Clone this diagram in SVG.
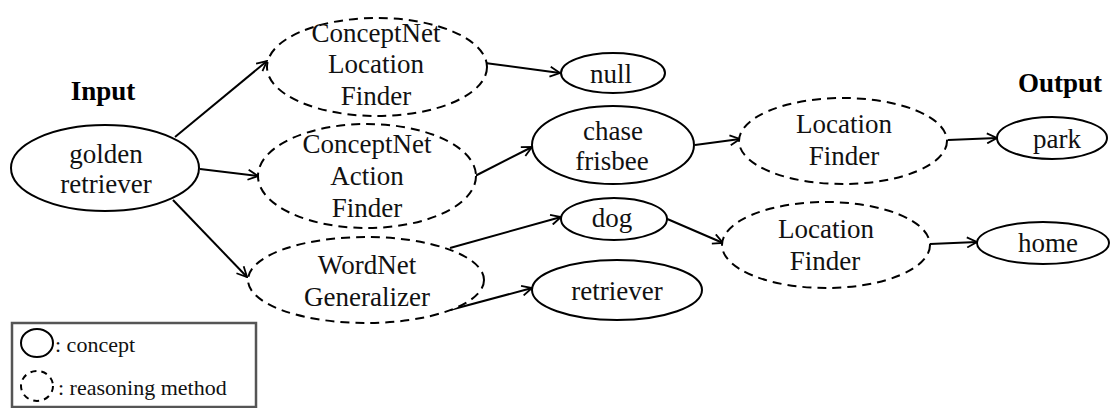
<svg xmlns="http://www.w3.org/2000/svg" width="1116" height="408" viewBox="0 0 1116 408">
<defs>
<marker id="arr" viewBox="0 0 12 12" refX="11" refY="6" markerWidth="12" markerHeight="12" markerUnits="userSpaceOnUse" orient="auto">
<path d="M1,1 L11,6 L1,11" fill="none" stroke="#000" stroke-width="1.8"/>
</marker>
<style>
.c{fill:#fff;stroke:#000;stroke-width:2}
.m{fill:#fff;stroke:#000;stroke-width:2;stroke-dasharray:9 6}
.t{font-family:"Liberation Serif","Times New Roman",serif;font-size:27px;fill:#111;text-anchor:middle}
.b{font-family:"Liberation Serif","Times New Roman",serif;font-size:27px;font-weight:bold;fill:#000;text-anchor:middle}
.l{font-family:"Liberation Serif","Times New Roman",serif;font-size:22px;fill:#111}
.e{fill:none;stroke:#000;stroke-width:2;marker-end:url(#arr)}
</style>
</defs>
<rect width="1116" height="408" fill="#fff"/>
<text class="b" x="103" y="100">Input</text>
<text class="b" x="1060" y="92">Output</text>
<g id="connectors">
<line class="e" x1="175" y1="137" x2="267" y2="61"/>
<line class="e" x1="200" y1="169" x2="258" y2="176"/>
<line class="e" x1="173" y1="200" x2="247" y2="277"/>
<line class="e" x1="485" y1="63" x2="560" y2="73"/>
<line class="e" x1="475" y1="176" x2="532" y2="147"/>
<line class="e" x1="450" y1="248" x2="561" y2="217"/>
<line class="e" x1="450" y1="310" x2="532" y2="288"/>
<line class="e" x1="695" y1="145" x2="740" y2="139"/>
<line class="e" x1="665" y1="218" x2="723" y2="243"/>
<line class="e" x1="948" y1="140" x2="997" y2="138"/>
<line class="e" x1="930" y1="244" x2="977" y2="242"/>
</g>
<g id="golden-retriever">
<ellipse class="c" cx="105" cy="168" rx="94" ry="43"/>
<text class="t" x="106" y="163">golden</text>
<text class="t" x="106" y="193">retriever</text>
</g>
<g id="cn-location-finder">
<ellipse class="m" cx="377" cy="67" rx="110" ry="49"/>
<text class="t" x="376" y="42">ConceptNet</text>
<text class="t" x="376" y="73">Location</text>
<text class="t" x="376" y="105">Finder</text>
</g>
<g id="cn-action-finder">
<ellipse class="m" cx="367" cy="176" rx="109" ry="52"/>
<text class="t" x="367" y="153">ConceptNet</text>
<text class="t" x="367" y="185">Action</text>
<text class="t" x="367" y="217">Finder</text>
</g>
<g id="wordnet-generalizer">
<ellipse class="m" cx="366" cy="280" rx="118" ry="43"/>
<text class="t" x="367" y="274">WordNet</text>
<text class="t" x="367" y="306">Generalizer</text>
</g>
<g id="null">
<ellipse class="c" cx="613" cy="73" rx="52" ry="20"/>
<text class="t" x="611" y="83">null</text>
</g>
<g id="chase-frisbee">
<ellipse class="c" cx="613" cy="145" rx="81" ry="39"/>
<text class="t" x="613" y="140">chase</text>
<text class="t" x="612" y="170">frisbee</text>
</g>
<g id="dog">
<ellipse class="c" cx="614" cy="219" rx="53" ry="21"/>
<text class="t" x="612" y="227">dog</text>
</g>
<g id="retriever">
<ellipse class="c" cx="617" cy="290" rx="85" ry="30"/>
<text class="t" x="617" y="300">retriever</text>
</g>
<g id="location-finder-1">
<ellipse class="m" cx="843" cy="141" rx="104" ry="43"/>
<text class="t" x="844" y="133">Location</text>
<text class="t" x="844" y="165">Finder</text>
</g>
<g id="location-finder-2">
<ellipse class="m" cx="826" cy="245" rx="104" ry="43"/>
<text class="t" x="826" y="238">Location</text>
<text class="t" x="825" y="270">Finder</text>
</g>
<g id="park">
<ellipse class="c" cx="1052" cy="138" rx="55" ry="21"/>
<text class="t" x="1057" y="148">park</text>
</g>
<g id="home">
<ellipse class="c" cx="1043" cy="243" rx="66" ry="21"/>
<text class="t" x="1048" y="252">home</text>
</g>
<g id="legend">
<rect x="12" y="323" width="244" height="84" fill="#fff" stroke="#555" stroke-width="2.5"/>
<ellipse class="c" cx="37" cy="343" rx="16" ry="14"/>
<text class="l" x="55" y="352">: concept</text>
<ellipse class="m" cx="37" cy="386" rx="16" ry="15" style="stroke-dasharray:6 5"/>
<text class="l" x="58" y="395">: reasoning method</text>
</g>
</svg>
